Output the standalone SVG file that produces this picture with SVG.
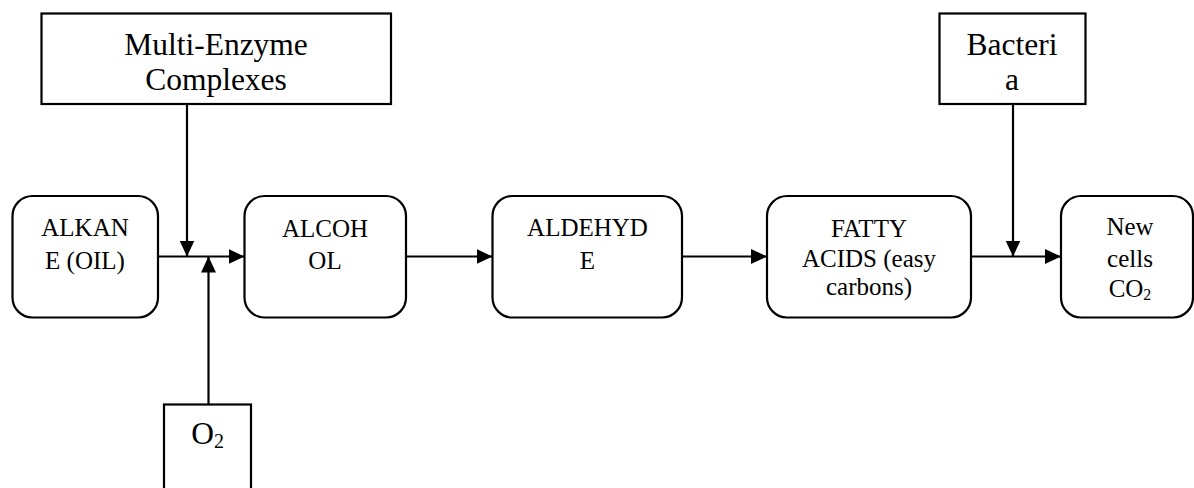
<svg xmlns="http://www.w3.org/2000/svg" width="1194" height="488" viewBox="0 0 1194 488">
<style>
.box{fill:#fff;stroke:#000;stroke-width:2.2}
.big{font-size:31.5px;fill:#000;text-anchor:middle}
.t{font-size:25px;fill:#000;text-anchor:middle}
.c{fill:none;stroke:#000;stroke-width:2.2;marker-end:url(#ah)}
</style>
<defs>
<marker id="ah" markerUnits="userSpaceOnUse" markerWidth="16" markerHeight="15" refX="16" refY="7.5" orient="auto">
<path d="M0,0 L16,7.5 L0,15 z" fill="#000"/>
</marker>
</defs>
<rect width="1194" height="488" fill="#fff"/>
<g id="connectors">
<path class="c" d="M158,256.5 H244.5"/>
<path class="c" d="M187,104 V256.5"/>
<path class="c" d="M208.5,404 V256.5"/>
<path class="c" d="M406,256.5 H492.5"/>
<path class="c" d="M682,256.5 H767"/>
<path class="c" d="M971,256.5 H1061"/>
<path class="c" d="M1013,104 V256.5"/>
</g>
<g font-family="'Liberation Serif', 'Times New Roman', 'DejaVu Serif', serif">
<g id="multi-enzyme">
<rect class="box" x="41.5" y="13.5" width="349.5" height="90.5"/>
<text class="big" x="216" y="54.5">Multi-Enzyme</text>
<text class="big" x="216" y="90">Complexes</text>
</g>
<g id="bacteria">
<rect class="box" x="939.5" y="13.5" width="146" height="90.5"/>
<text class="big" x="1012" y="54.5">Bacteri</text>
<text class="big" x="1012" y="90">a</text>
</g>
<g id="o2">
<rect class="box" x="164" y="404.5" width="87" height="100"/>
<text class="big" x="207.5" y="444">O<tspan font-size="20" dy="4">2</tspan></text>
</g>
<g id="alkane">
<rect class="box" x="12.5" y="196" width="145.5" height="121.5" rx="20" ry="20"/>
<text class="t" x="85" y="236">ALKAN</text>
<text class="t" x="85" y="268.5">E (OIL)</text>
</g>
<g id="alcohol">
<rect class="box" x="244.5" y="196" width="161.5" height="121.5" rx="20" ry="20"/>
<text class="t" x="325" y="236.5">ALCOH</text>
<text class="t" x="325" y="268.5">OL</text>
</g>
<g id="aldehyde">
<rect class="box" x="492.5" y="196" width="189.5" height="121.5" rx="20" ry="20"/>
<text class="t" x="587.5" y="236">ALDEHYD</text>
<text class="t" x="587.5" y="269">E</text>
</g>
<g id="fatty-acids">
<rect class="box" x="767" y="196" width="204" height="121.5" rx="20" ry="20"/>
<text class="t" x="869" y="236.5">FATTY</text>
<text class="t" x="869" y="266.5">ACIDS (easy</text>
<text class="t" x="869" y="295">carbons)</text>
</g>
<g id="new-cells">
<rect class="box" x="1061" y="196" width="132" height="121.5" rx="20" ry="20"/>
<text class="t" x="1130" y="235">New</text>
<text class="t" x="1130" y="266.5">cells</text>
<text class="t" x="1130" y="296.5">CO<tspan font-size="16" dy="3">2</tspan></text>
</g>
</g>
</svg>
